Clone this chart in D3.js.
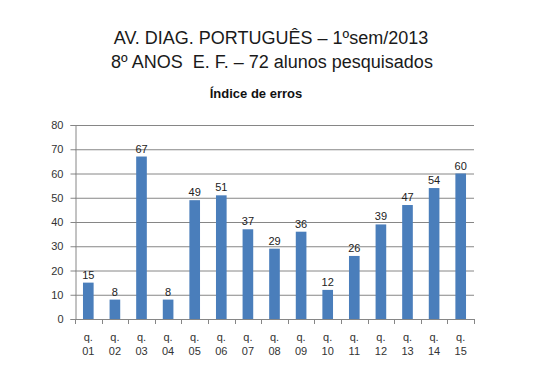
<!DOCTYPE html>
<html>
<head>
<meta charset="utf-8">
<script src="https://cdn.jsdelivr.net/npm/d3@7"></script>
<style>
  body { margin: 0; background: #fff; }
  svg { display: block; }
</style>
</head>
<body>
<svg id="chart" width="546" height="369"></svg>
<script>
// dados do gráfico
const questoes = ['01', '02', '03', '04', '05', '06', '07', '08', '09', '10', '11', '12', '13', '14', '15'];
const erros = [15, 8, 67, 8, 49, 51, 37, 29, 36, 12, 26, 39, 47, 54, 60];
const yTicks = [0, 10, 20, 30, 40, 50, 60, 70, 80];
const titulo1 = 'AV. DIAG. PORTUGUÊS – 1ºsem/2013';
const titulo2 = '8º ANOS  E. F. – 72 alunos pesquisados';
const subtitulo = 'Índice de erros';

const svg = d3.select('#chart');
const font = 'Liberation Sans, Arial, sans-serif';

const plotLeft = 75, plotRight = 474, plotTop = 125, plotBottom = 319;

const x = d3.scaleBand()
  .domain(questoes)
  .range([plotLeft, plotRight])
  .paddingInner(0.6)
  .paddingOuter(0.3);

const y = d3.scaleLinear().domain([0, 80]).range([plotBottom, plotTop]);

// títulos
svg.append('text')
  .attr('x', 271).attr('y', 44)
  .attr('text-anchor', 'middle')
  .attr('font-family', font)
  .attr('font-size', '18px')
  .attr('fill', '#1a1a1a')
  .text(titulo1);

svg.append('text')
  .attr('x', 272).attr('y', 68)
  .attr('text-anchor', 'middle')
  .attr('font-family', font)
  .attr('font-size', '18px')
  .attr('fill', '#1a1a1a')
  .style('white-space', 'pre')
  .text(titulo2);

svg.append('text')
  .attr('x', 256).attr('y', 98)
  .attr('text-anchor', 'middle')
  .attr('font-family', font)
  .attr('font-size', '13px')
  .attr('font-weight', 'bold')
  .attr('fill', '#111')
  .text(subtitulo);

// linhas de grade
svg.append('g')
  .selectAll('line')
  .data(yTicks.filter(d => d > 0))
  .join('line')
  .attr('x1', plotLeft).attr('x2', plotRight)
  .attr('y1', d => y(d) + 0.5).attr('y2', d => y(d) + 0.5)
  .attr('stroke', '#868686')
  .attr('stroke-width', 1);

// eixo y
const yAxis = svg.append('g')
  .attr('transform', `translate(${plotLeft + 0.5},0)`)
  .call(d3.axisLeft(y).tickValues(yTicks).tickSize(5).tickPadding(7));
yAxis.select('.domain').attr('stroke', '#868686');
yAxis.selectAll('.tick line').attr('stroke', '#868686');
yAxis.selectAll('.tick text')
  .attr('font-family', font)
  .attr('font-size', '11px')
  .attr('fill', '#333');

// eixo x
svg.append('line')
  .attr('x1', plotLeft).attr('x2', plotRight)
  .attr('y1', plotBottom + 0.5).attr('y2', plotBottom + 0.5)
  .attr('stroke', '#868686');

const catW = (plotRight - plotLeft) / questoes.length;
svg.append('g')
  .selectAll('line')
  .data(d3.range(questoes.length + 1))
  .join('line')
  .attr('x1', i => Math.round(plotLeft + i * catW) + 0.5)
  .attr('x2', i => Math.round(plotLeft + i * catW) + 0.5)
  .attr('y1', plotBottom)
  .attr('y2', plotBottom + 5)
  .attr('stroke', '#868686');

const xl = svg.append('g')
  .selectAll('text')
  .data(questoes)
  .join('text')
  .attr('text-anchor', 'middle')
  .attr('font-family', font)
  .attr('font-size', '11px')
  .attr('fill', '#333');
xl.append('tspan')
  .attr('x', d => x(d) + x.bandwidth() / 2)
  .attr('y', 341)
  .text('q.');
xl.append('tspan')
  .attr('x', d => x(d) + x.bandwidth() / 2)
  .attr('y', 355)
  .text(d => d);

// barras
svg.append('g')
  .selectAll('rect')
  .data(erros)
  .join('rect')
  .attr('x', (d, i) => x(questoes[i]))
  .attr('y', d => y(d))
  .attr('width', x.bandwidth())
  .attr('height', d => plotBottom - y(d))
  .attr('fill', '#4a7ebb');

// rótulos de dados
svg.append('g')
  .selectAll('text')
  .data(erros)
  .join('text')
  .attr('x', (d, i) => x(questoes[i]) + x.bandwidth() / 2)
  .attr('y', d => y(d) - 4)
  .attr('text-anchor', 'middle')
  .attr('font-family', font)
  .attr('font-size', '11px')
  .attr('fill', '#222')
  .text(d => d);
</script>
</body>
</html>
